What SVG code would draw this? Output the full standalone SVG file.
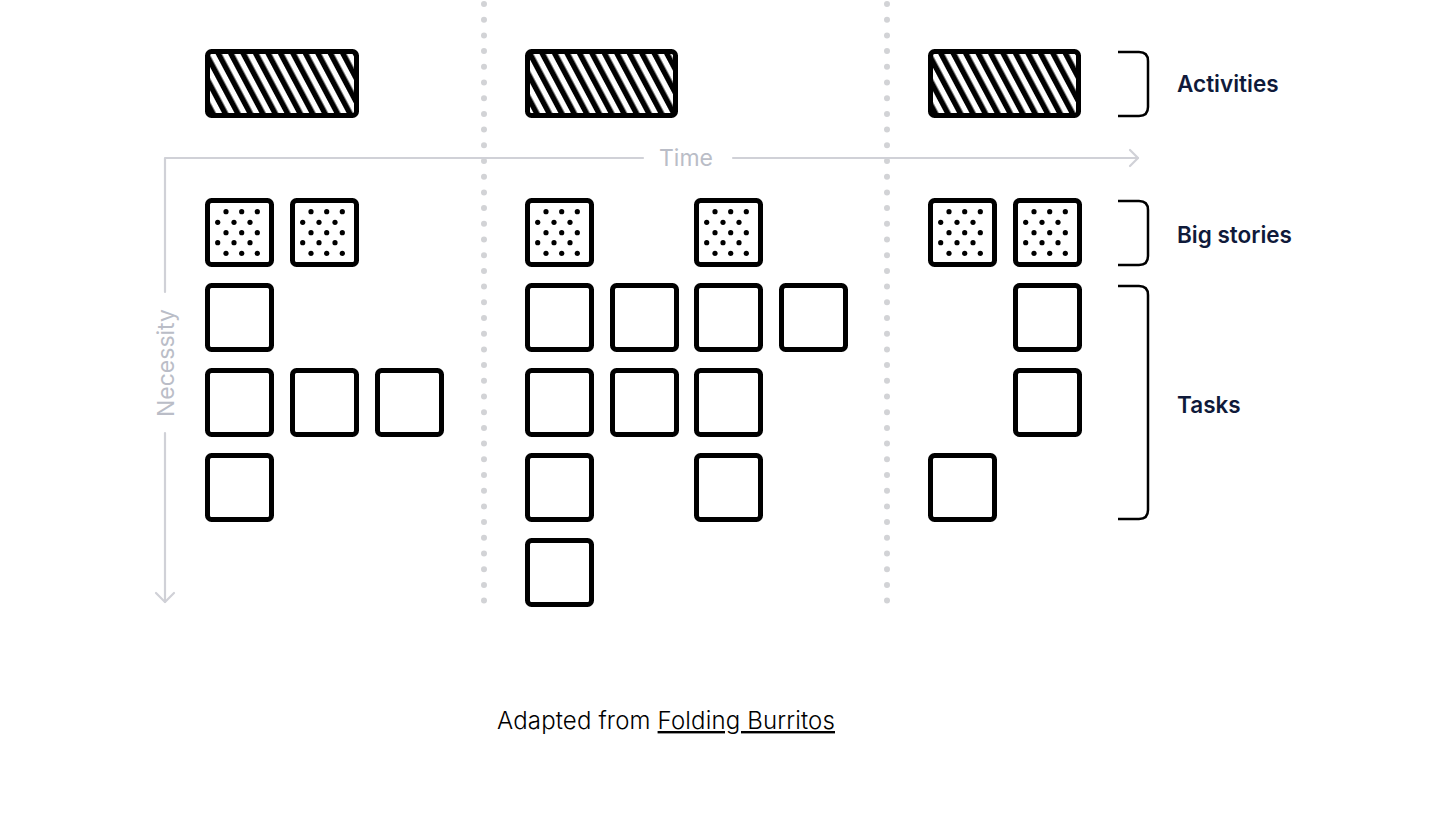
<svg xmlns="http://www.w3.org/2000/svg" xmlns:xlink="http://www.w3.org/1999/xlink" width="1446" height="814" viewBox="0 0 1446 814">
<style>
.box{fill:#fff;stroke:#000;stroke-width:5}
.act{fill:url(#hatch);stroke:#000;stroke-width:5}
.div{stroke:#d2d3d6;stroke-width:6;stroke-linecap:round;stroke-dasharray:0 15.7;fill:none}
.axis{stroke:#d0d1d7;stroke-width:2.2;fill:none;stroke-linecap:round;stroke-linejoin:round}
.axt{font-family:Inter,"Liberation Sans",sans-serif;font-size:23px;fill:#babdc7}
.brk{stroke:#000;stroke-width:2.5;fill:none}
.lbl{font-family:Inter,"Liberation Sans",sans-serif;font-size:22.5px;font-weight:600;fill:#0f1a3a}
.foot{font-family:Inter,"Liberation Sans",sans-serif;font-size:24px;font-weight:300;fill:#000;letter-spacing:0.15px}
</style>
<defs>
<pattern id="hatch" patternUnits="userSpaceOnUse" width="11" height="11" patternTransform="rotate(-28)">
<rect x="0" y="0" width="11" height="11" fill="#fff"/>
<rect x="0" y="0" width="5.5" height="11" fill="#000"/>
</pattern>
<g id="dots" fill="#000">
<circle cx="21" cy="13.7" r="2.6"/><circle cx="36.7" cy="13.7" r="2.6"/><circle cx="52.3" cy="13.7" r="2.6"/>
<circle cx="12.7" cy="24.3" r="2.6"/><circle cx="29" cy="24.3" r="2.6"/><circle cx="45" cy="24.3" r="2.6"/>
<circle cx="21" cy="34.7" r="2.6"/><circle cx="36.7" cy="34.7" r="2.6"/><circle cx="52.3" cy="34.7" r="2.6"/>
<circle cx="12.7" cy="44.7" r="2.6"/><circle cx="29" cy="44.7" r="2.6"/><circle cx="45" cy="44.7" r="2.6"/>
<circle cx="21" cy="55.3" r="2.6"/><circle cx="36.7" cy="55.3" r="2.6"/><circle cx="52.3" cy="55.3" r="2.6"/>
</g>
</defs>
<rect width="1446" height="814" fill="#fff"/>

<g id="dividers">
<line class="div" x1="484" y1="4" x2="484" y2="604"/>
<line class="div" x1="887" y1="4" x2="887" y2="604"/>
</g>

<g id="connectors">
<path class="axis" d="M643,158 H165 V292"/>
<path class="axis" d="M733,158 H1138"/>
<path class="axis" d="M1130,150 L1138,158 L1130,166"/>
<path class="axis" d="M165,433 V602"/>
<path class="axis" d="M156,593 L165,602 L174,593"/>
</g>
<g id="axis-labels">
<text class="axt" x="659" y="166">Time</text>
<text class="axt" transform="translate(174,363) rotate(-90)" text-anchor="middle">Necessity</text>
</g>

<g id="activities">
<rect class="act" x="207.5" y="51.5" width="149" height="64" rx="4"/>
<rect class="act" x="527.5" y="51.5" width="148" height="64" rx="4"/>
<rect class="act" x="930.5" y="51.5" width="148" height="64" rx="4"/>
</g>

<g id="big-stories">
<rect class="box" x="207.5" y="200.5" width="64" height="64" rx="4"/><use xlink:href="#dots" x="205" y="198"/>
<rect class="box" x="292.5" y="200.5" width="64" height="64" rx="4"/><use xlink:href="#dots" x="290" y="198"/>
<rect class="box" x="527.5" y="200.5" width="64" height="64" rx="4"/><use xlink:href="#dots" x="525" y="198"/>
<rect class="box" x="696.5" y="200.5" width="64" height="64" rx="4"/><use xlink:href="#dots" x="694" y="198"/>
<rect class="box" x="930.5" y="200.5" width="64" height="64" rx="4"/><use xlink:href="#dots" x="928" y="198"/>
<rect class="box" x="1015.5" y="200.5" width="64" height="64" rx="4"/><use xlink:href="#dots" x="1013" y="198"/>
</g>

<g id="tasks">
<rect class="box" x="207.5" y="285.5" width="64" height="64" rx="4"/>
<rect class="box" x="207.5" y="370.5" width="64" height="64" rx="4"/>
<rect class="box" x="292.5" y="370.5" width="64" height="64" rx="4"/>
<rect class="box" x="377.5" y="370.5" width="64" height="64" rx="4"/>
<rect class="box" x="207.5" y="455.5" width="64" height="64" rx="4"/>

<rect class="box" x="527.5" y="285.5" width="64" height="64" rx="4"/>
<rect class="box" x="612.5" y="285.5" width="64" height="64" rx="4"/>
<rect class="box" x="696.5" y="285.5" width="64" height="64" rx="4"/>
<rect class="box" x="781.5" y="285.5" width="64" height="64" rx="4"/>
<rect class="box" x="527.5" y="370.5" width="64" height="64" rx="4"/>
<rect class="box" x="612.5" y="370.5" width="64" height="64" rx="4"/>
<rect class="box" x="696.5" y="370.5" width="64" height="64" rx="4"/>
<rect class="box" x="527.5" y="455.5" width="64" height="64" rx="4"/>
<rect class="box" x="696.5" y="455.5" width="64" height="64" rx="4"/>
<rect class="box" x="527.5" y="540.5" width="64" height="64" rx="4"/>

<rect class="box" x="1015.5" y="285.5" width="64" height="64" rx="4"/>
<rect class="box" x="1015.5" y="370.5" width="64" height="64" rx="4"/>
<rect class="box" x="930.5" y="455.5" width="64" height="64" rx="4"/>
</g>

<g id="brackets">
<path class="brk" d="M1118,52 H1139 Q1148,52 1148,61 V107 Q1148,116 1139,116 H1118"/>
<path class="brk" d="M1118,201 H1139 Q1148,201 1148,210 V256 Q1148,265 1139,265 H1118"/>
<path class="brk" d="M1118,286 H1139 Q1148,286 1148,295 V510 Q1148,519 1139,519 H1118"/>
</g>
<g id="labels">
<text class="lbl" x="1177" y="92">Activities</text>
<text class="lbl" x="1177" y="243">Big stories</text>
<text class="lbl" x="1177" y="413">Tasks</text>
</g>

<g id="footer">
<text class="foot" x="497" y="729">Adapted from <tspan text-decoration="underline">Folding Burritos</tspan></text>
</g>
</svg>
